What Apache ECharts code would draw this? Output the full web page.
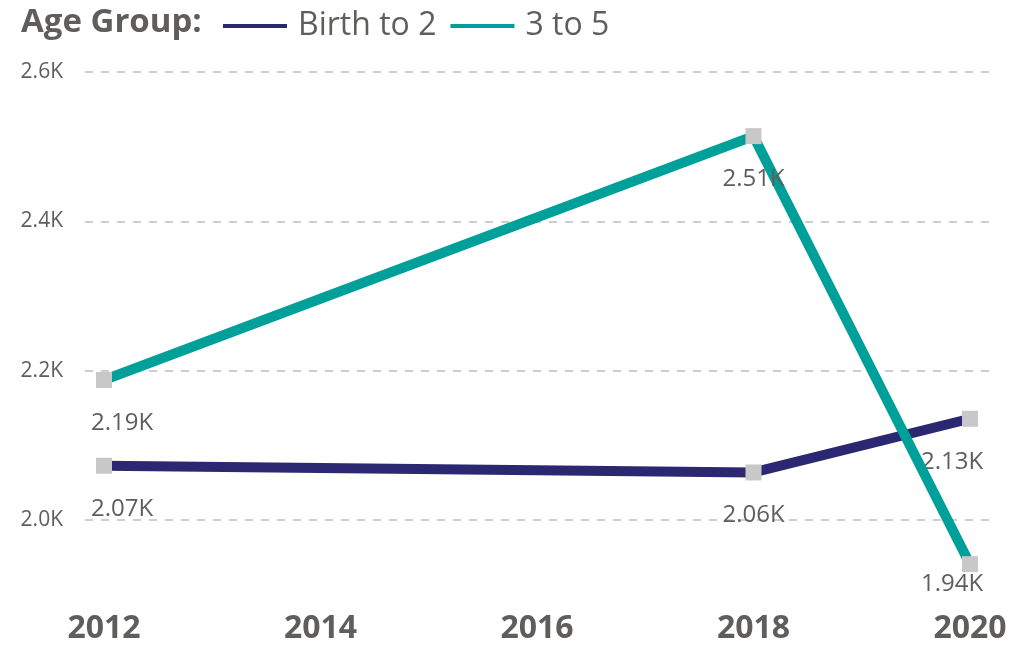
<!DOCTYPE html>
<html>
<head>
<meta charset="utf-8">
<script src="https://cdn.jsdelivr.net/npm/echarts@6/dist/echarts.min.js"></script>
<style>
    html, body {margin: 0; padding: 0; background: #fff;}
    #chart {width: 1011px; height: 645px;}
</style>
</head>
<body>
<div id="chart"></div>
<script>
const years = [2012, 2018, 2020]
const birthTo2 = [2072, 2063, 2135]
const threeTo5 = [2187, 2514, 1940]
const seriesNames = ['Birth to 2', '3 to 5']
const seriesColors = ['#2B2770', '#00A09A']
const yTicks = [2000, 2200, 2400, 2600]
const xTicks = [2012, 2014, 2016, 2018, 2020]

const font = '"Open Sans", "Noto Sans", sans-serif'
const grey = '#605E5C'

function kFormat(v, digits) {
    return (v / 1000).toFixed(digits) + 'K'
}

function buildPoints(values) {
    return values.map((v, i) => {
        let offset = [0, 0]
        if (i === 0) offset = [18, 0]
        if (i === values.length - 1) offset = [-18, 0]
        if (v < yTicks[0]) offset = [offset[0], -23]
        return {value: [years[i], v], label: {offset: offset}}
    })
}

function lineSeries(idx, values) {
    return {
        name: seriesNames[idx],
        type: 'line',
        xAxisIndex: 0,
        yAxisIndex: 0,
        data: buildPoints(values),
        lineStyle: {width: 10, color: seriesColors[idx]},
        symbol: 'rect',
        symbolSize: 16,
        itemStyle: {color: '#C8C8C8'},
        label: {
            show: true,
            position: 'bottom',
            distance: 23,
            fontSize: 24,
            color: grey,
            fontFamily: font,
            formatter: (p) => kFormat(p.value[1], 2)
        },
        z: 3 + idx
    }
}

let chart = echarts.init(document.getElementById('chart'))

chart.setOption({
    animation: false,
    textStyle: {fontFamily: font},
    title: {
        text: 'Age Group:',
        left: 16,
        top: 1,
        textStyle: {fontSize: 33, fontWeight: 'bold', color: grey, fontFamily: font}
    },
    legend: {
        data: seriesNames.map((n, i) => ({name: n, itemStyle: {color: seriesColors[i]}})),
        left: 218,
        top: 5,
        icon: 'rect',
        itemWidth: 64,
        itemHeight: 4,
        itemGap: 14,
        textStyle: {fontSize: 32, color: grey, fontFamily: font, padding: [0, 0, 0, 6]}
    },
    grid: [
        {left: 104, right: 41, top: 72, bottom: 50},
        {left: 85, right: 21, top: 72, height: 448}
    ],
    xAxis: [
        {
            type: 'value',
            gridIndex: 0,
            min: xTicks[0],
            max: xTicks[xTicks.length - 1],
            interval: 2,
            axisLine: {show: false},
            axisTick: {show: false},
            splitLine: {show: false},
            axisLabel: {
                margin: 19,
                fontSize: 32,
                fontWeight: 'bold',
                color: grey,
                fontFamily: font,
                formatter: (v) => String(v)
            }
        },
        {type: 'value', gridIndex: 1, show: false, min: 0, max: 1}
    ],
    yAxis: [
        {type: 'value', gridIndex: 0, show: false, min: 1900, max: 2600},
        {
            type: 'value',
            gridIndex: 1,
            min: yTicks[0],
            max: yTicks[yTicks.length - 1],
            interval: 200,
            axisLine: {show: false},
            axisTick: {show: false},
            axisLabel: {
                margin: 22,
                fontSize: 21,
                color: grey,
                fontFamily: font,
                formatter: (v) => kFormat(v, 1)
            },
            splitLine: {lineStyle: {color: '#BDBDBD', width: 1.5, type: [8, 8]}}
        }
    ],
    series: [
        lineSeries(0, birthTo2),
        lineSeries(1, threeTo5)
    ]
})
</script>
</body>
</html>
